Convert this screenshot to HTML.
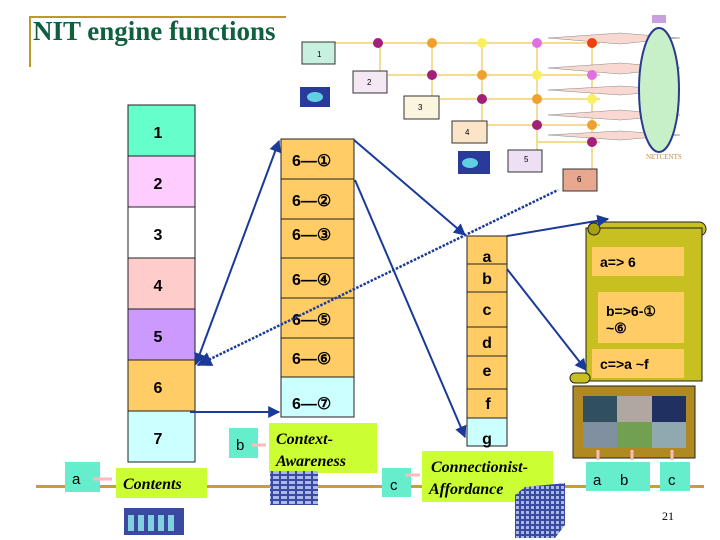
<!DOCTYPE html>
<html><head><meta charset="utf-8"><style>
html,body{margin:0;padding:0;background:#fff;}
svg{display:block;}
text{font-family:"Liberation Sans",Arial,sans-serif;}
.n{font-weight:bold;font-size:16px;text-anchor:middle;}
.s{font-family:"Liberation Serif",serif;font-weight:bold;font-style:italic;}
</style></head><body>
<svg width="720" height="540" viewBox="0 0 720 540" xmlns="http://www.w3.org/2000/svg">
<defs>
<marker id="ah" viewBox="0 0 10 10" refX="9" refY="5" markerWidth="6" markerHeight="6" orient="auto-start-reverse"><path d="M0,0L10,5L0,10z" fill="#1a3a9a"/></marker>
<pattern id="grid" width="8" height="5" patternUnits="userSpaceOnUse"><rect width="8" height="5" fill="#3a4aa0"/><rect x="1" y="1" width="6" height="3" fill="#a8b8e8"/></pattern>
<pattern id="grid2" width="5" height="5" patternUnits="userSpaceOnUse"><rect width="5" height="5" fill="#3a4aa0"/><rect x="1" y="1" width="3" height="3" fill="#a8b8e8"/></pattern>
</defs>
<!-- title -->
<rect x="29" y="16" width="257" height="2" fill="#c09a20"/>
<rect x="29" y="16" width="2" height="51" fill="#c09a20"/>
<text x="33" y="40" font-weight="bold" font-size="27" fill="#106040" style="font-family:'Liberation Serif',serif">NIT engine  functions</text>

<!-- top-right network image -->
<g stroke="#f0d070" stroke-width="1.5" fill="none">
<line x1="335" y1="43" x2="600" y2="43"/><line x1="388" y1="75" x2="600" y2="75"/>
<line x1="440" y1="99" x2="600" y2="99"/><line x1="487" y1="125" x2="600" y2="125"/>
<line x1="537" y1="142" x2="600" y2="142"/>
<line x1="380" y1="43" x2="380" y2="72"/><line x1="432" y1="43" x2="432" y2="97"/>
<line x1="482" y1="43" x2="482" y2="122"/><line x1="537" y1="43" x2="537" y2="150"/><line x1="592" y1="43" x2="592" y2="170"/>
</g>
<g fill="#f8d8d0" stroke="#888" stroke-width="0.5">
<polygon points="548,38 620,33 680,38 620,44"/><polygon points="548,68 620,63 680,68 620,74"/>
<polygon points="548,90 620,86 680,90 620,95"/><polygon points="548,115 620,110 680,115 620,120"/>
<polygon points="548,135 620,131 680,135 620,140"/>
</g>
<ellipse cx="659" cy="90" rx="20" ry="62" fill="#c8f0c8" stroke="#2a3a90" stroke-width="2"/>
<rect x="652" y="15" width="14" height="8" fill="#c8a0e0"/>
<text x="646" y="159" font-size="7" fill="#c09040" style="font-family:'Liberation Serif',serif">NETCENTS</text>
<rect x="302" y="42" width="33" height="22" fill="#c8f0e0" stroke="#333"/><text x="317" y="57" font-size="8">1</text>
<rect x="353" y="71" width="34" height="22" fill="#f4e8f4" stroke="#333"/><text x="367" y="85" font-size="8">2</text>
<rect x="404" y="96" width="35" height="23" fill="#fbf5e0" stroke="#333"/><text x="418" y="110" font-size="8">3</text>
<rect x="452" y="121" width="35" height="22" fill="#fbe4c8" stroke="#333"/><text x="465" y="135" font-size="8">4</text>
<rect x="508" y="150" width="34" height="22" fill="#eee0f4" stroke="#333"/><text x="524" y="162" font-size="8">5</text>
<rect x="563" y="169" width="34" height="22" fill="#e8a890" stroke="#333"/><text x="577" y="182" font-size="8">6</text>
<rect x="300" y="87" width="30" height="20" fill="#2a3a9a"/><ellipse cx="315" cy="97" rx="8" ry="5" fill="#60d0e0"/>
<rect x="458" y="151" width="32" height="23" fill="#2a3a9a"/><ellipse cx="470" cy="163" rx="8" ry="5" fill="#60d0e0"/>
<g fill="#a0207a"><circle cx="378" cy="43" r="5"/><circle cx="432" cy="75" r="5"/><circle cx="482" cy="99" r="5"/><circle cx="537" cy="125" r="5"/><circle cx="592" cy="142" r="5"/></g>
<g fill="#f0a030"><circle cx="432" cy="43" r="5"/><circle cx="482" cy="75" r="5"/><circle cx="537" cy="99" r="5"/><circle cx="592" cy="125" r="5"/></g>
<g fill="#f8f060"><circle cx="482" cy="43" r="5"/><circle cx="537" cy="75" r="5"/><circle cx="592" cy="99" r="5"/></g>
<circle cx="537" cy="43" r="5" fill="#e070e0"/><circle cx="592" cy="75" r="5" fill="#e070e0"/><circle cx="592" cy="43" r="5" fill="#f04010"/>

<!-- left column -->
<g stroke="#222" stroke-width="1">
<rect x="128" y="105" width="67" height="51" fill="#66ffcc"/>
<rect x="128" y="156" width="67" height="51" fill="#ffccff"/>
<rect x="128" y="207" width="67" height="51" fill="#ffffff"/>
<rect x="128" y="258" width="67" height="51" fill="#ffcccc"/>
<rect x="128" y="309" width="67" height="51" fill="#cc99ff"/>
<rect x="128" y="360" width="67" height="51" fill="#ffcc66"/>
<rect x="128" y="411" width="67" height="51" fill="#ccffff"/>
</g>
<text class="n" x="158" y="138">1</text><text class="n" x="158" y="189">2</text><text class="n" x="158" y="240">3</text>
<text class="n" x="158" y="291">4</text><text class="n" x="158" y="342">5</text><text class="n" x="158" y="393">6</text><text class="n" x="158" y="444">7</text>

<!-- middle column -->
<g stroke="#222" stroke-width="1" fill="#ffcc66">
<rect x="281" y="139" width="73" height="40"/><rect x="281" y="179" width="73" height="40"/>
<rect x="281" y="219" width="73" height="39"/><rect x="281" y="258" width="73" height="40"/>
<rect x="281" y="298" width="73" height="40"/><rect x="281" y="338" width="73" height="39"/>
<rect x="281" y="377" width="73" height="40" fill="#ccffff"/>
</g>
<g font-size="16" font-weight="bold">
<text x="292" y="166">6—①</text><text x="292" y="206">6—②</text><text x="292" y="240">6—③</text>
<text x="292" y="285">6—④</text><text x="292" y="325">6—⑤</text><text x="292" y="364">6—⑥</text><text x="292" y="409">6—⑦</text>
</g>

<!-- a-g column -->
<g stroke="#222" stroke-width="1" fill="#ffcc66">
<rect x="467" y="236" width="40" height="28"/><rect x="467" y="264" width="40" height="28"/>
<rect x="467" y="292" width="40" height="35"/><rect x="467" y="327" width="40" height="29"/>
<rect x="467" y="356" width="40" height="33"/><rect x="467" y="389" width="40" height="29"/>
<rect x="467" y="418" width="40" height="28" fill="#ccffff"/>
</g>
<text class="n" x="487" y="262">a</text><text class="n" x="487" y="284">b</text><text class="n" x="487" y="315">c</text>
<text class="n" x="487" y="348">d</text><text class="n" x="487" y="376">e</text><text class="n" x="488" y="409">f</text><text class="n" x="487" y="444">g</text>

<!-- scroll -->
<rect x="588" y="222" width="118" height="14" rx="7" fill="#c8c020" stroke="#222"/>
<rect x="586" y="228" width="116" height="153" fill="#c8c020" stroke="#222"/>
<circle cx="594" cy="229" r="6" fill="#a8a010" stroke="#222"/>
<rect x="570" y="373" width="20" height="10" rx="5" fill="#c8c020" stroke="#222"/>
<rect x="592" y="247" width="92" height="29" fill="#ffcc66"/>
<rect x="598" y="292" width="86" height="51" fill="#ffcc66"/>
<rect x="592" y="349" width="92" height="29" fill="#ffcc66"/>
<g font-weight="bold" font-size="14">
<text x="600" y="267">a=&gt; 6</text><text x="606" y="316">b=&gt;6-①</text><text x="606" y="333">~⑥</text><text x="600" y="369">c=&gt;a ~f</text>
</g>

<!-- picture frame -->
<rect x="573" y="386" width="122" height="72" fill="#b08a20" stroke="#222"/>
<rect x="583" y="396" width="103" height="52" fill="#7090a0"/>
<rect x="583" y="396" width="34" height="26" fill="#305060"/><rect x="617" y="396" width="35" height="26" fill="#b0a8a0"/>
<rect x="652" y="396" width="34" height="26" fill="#203060"/><rect x="583" y="422" width="34" height="26" fill="#8090a0"/>
<rect x="617" y="422" width="35" height="26" fill="#70a050"/><rect x="652" y="422" width="34" height="26" fill="#90a8b0"/>

<!-- bottom line -->
<rect x="36" y="485" width="668" height="3" fill="#c8a030"/>
<rect x="65" y="462" width="35" height="30" fill="#66eecc"/><text x="72" y="484" font-size="15">a</text>
<rect x="116" y="468" width="91" height="30" fill="#ccff33"/><text class="s" x="123" y="489" font-size="16" style="font-family:'Liberation Serif',serif">Contents</text>
<rect x="229" y="428" width="29" height="30" fill="#66eecc"/><text x="236" y="450" font-size="15">b</text>
<rect x="269" y="423" width="108" height="50" fill="#ccff33"/>
<text class="s" x="276" y="444" font-size="16" style="font-family:'Liberation Serif',serif">Context-</text>
<text class="s" x="276" y="466" font-size="16" style="font-family:'Liberation Serif',serif">Awareness</text>
<rect x="382" y="468" width="29" height="29" fill="#66eecc"/><text x="390" y="490" font-size="15">c</text>
<rect x="422" y="451" width="131" height="51" fill="#ccff33"/>
<text class="s" x="431" y="472" font-size="16" style="font-family:'Liberation Serif',serif">Connectionist-</text>
<text class="s" x="429" y="494" font-size="16" style="font-family:'Liberation Serif',serif">Affordance</text>
<rect x="586" y="462" width="64" height="29" fill="#66eecc"/><text x="593" y="485" font-size="15">a</text><text x="620" y="485" font-size="15">b</text>
<rect x="660" y="462" width="30" height="29" fill="#66eecc"/><text x="668" y="485" font-size="15">c</text>
<g stroke="#ffbbbb" stroke-width="3"><line x1="93" y1="479" x2="112" y2="479"/><line x1="252" y1="445" x2="266" y2="445"/>
<line x1="405" y1="475" x2="420" y2="475"/><line x1="598" y1="460" x2="598" y2="450"/><line x1="632" y1="460" x2="632" y2="450"/><line x1="672" y1="460" x2="672" y2="450"/></g>

<!-- server icons -->
<rect x="124" y="508" width="60" height="27" fill="#3a4aa0"/>
<g fill="#80d0e0"><rect x="128" y="515" width="6" height="16"/><rect x="138" y="515" width="6" height="16"/><rect x="148" y="515" width="6" height="16"/><rect x="158" y="515" width="6" height="16"/><rect x="168" y="515" width="6" height="16"/></g>
<rect x="270" y="471" width="48" height="34" fill="url(#grid)"/>
<polygon points="525,487 565,483 565,525 555,538 515,538 515,495" fill="url(#grid2)"/>
<text x="662" y="520" font-size="12" style="font-family:'Liberation Serif',serif">21</text>

<!-- arrows -->
<g stroke="#1a3a9a" stroke-width="2" fill="none">
<line x1="196" y1="364" x2="279" y2="141" marker-start="url(#ah)" marker-end="url(#ah)"/>
<line x1="190" y1="412" x2="279" y2="412" marker-end="url(#ah)"/>
<line x1="354" y1="140" x2="465" y2="235" marker-end="url(#ah)"/>
<line x1="355" y1="180" x2="465" y2="437" marker-end="url(#ah)"/>
<line x1="507" y1="236" x2="608" y2="219" marker-end="url(#ah)"/>
<line x1="507" y1="269" x2="586" y2="370" marker-end="url(#ah)"/>
<line x1="198" y1="365" x2="558" y2="190" stroke-width="2.5" stroke-dasharray="2.5,1.5" marker-start="url(#ah)"/>
</g>
</svg>
</body></html>
